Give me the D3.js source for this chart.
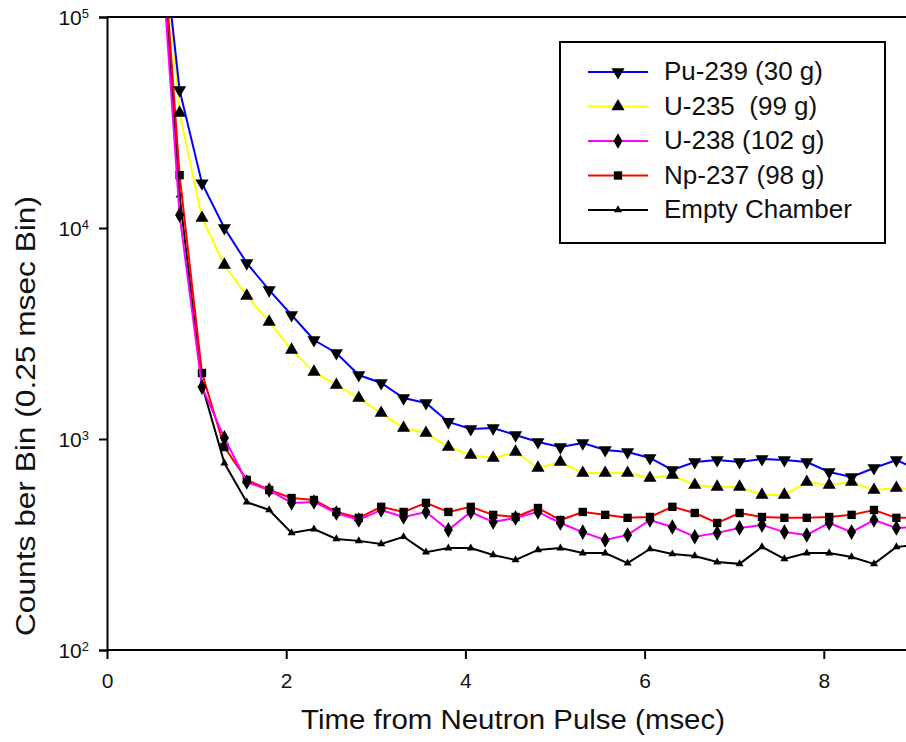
<!DOCTYPE html>
<html>
<head>
<meta charset="utf-8">
<script src="https://cdn.jsdelivr.net/npm/d3@7"></script>
<style>
  body { margin: 0; background: #fff; }
  text { font-family: "Liberation Sans", Arial, sans-serif; fill: #111; }
</style>
</head>
<body>
<div id="chart"></div>
<script>
var w = 906, h = 742;

// Bin times (msec)
var times = [0.56, 0.81, 1.06, 1.31, 1.56, 1.81, 2.06, 2.31, 2.56, 2.81,
             3.06, 3.31, 3.56, 3.81, 4.06, 4.31, 4.56, 4.81, 5.06, 5.31,
             5.56, 5.81, 6.06, 6.31, 6.56, 6.81, 7.06, 7.31, 7.56, 7.81,
             8.06, 8.31, 8.56, 8.81, 9.06];

// Counts per bin
var pu239 = [422000, 45100, 16300, 10000, 6820, 5080, 3870, 2945, 2557, 2010,
             1842, 1563, 1482, 1205, 1115, 1127, 1044, 968, 916, 957,
             887, 868, 813, 713, 778, 795, 778, 804, 795, 778,
             698, 661, 729, 795, 713];
var u235 = [573000, 35100, 11150, 6680, 4765, 3590, 2643, 2080, 1803, 1563,
            1327, 1127, 1067, 916, 840, 813, 868, 729, 778, 690,
            690, 690, 653, 675, 605, 593, 593, 543, 543, 625,
            605, 625, 573, 586, 573];
var u238 = [400000, 11530, 1762, 1012, 625, 573, 498, 503, 446, 413,
            461, 427, 451, 371, 451, 404, 423, 451, 400, 362,
            332, 351, 413, 383, 344, 359, 379, 391, 362, 351,
            400, 362, 413, 379, 383];
var np237 = [561000, 17800, 2055, 916, 640, 573, 525, 514, 451, 423,
             477, 451, 498, 451, 477, 437, 427, 471, 413, 451,
             437, 423, 427, 477, 446, 400, 446, 427, 423, 423,
             427, 437, 461, 423, 423];
var empty = [446000, 14300, 1803, 769, 502, 461, 359, 374, 336, 329,
             318, 344, 291, 304, 304, 282, 267, 298, 304, 288,
             288, 258, 301, 285, 279, 261, 256, 308, 270, 288,
             288, 276, 256, 308, 315];

var seriesNames = ["Pu-239 (30 g)", "U-235  (99 g)", "U-238 (102 g)", "Np-237 (98 g)", "Empty Chamber"];
var seriesValues = [pu239, u235, u238, np237, empty];
var seriesColors = ["#0000ff", "#ffff00", "#ff00ff", "#ff0000", "#000000"];
var xTicks = [0, 2, 4, 6, 8];
var yTicks = [100, 1000, 10000, 100000];

var markerType = [
  { type: d3.symbolTriangle, size: 75, rot: 180 },
  { type: d3.symbolTriangle, size: 75, rot: 0 },
  { type: d3.symbolDiamond, size: 70, rot: 0 },
  { type: d3.symbolSquare, size: 70, rot: 0 },
  { type: d3.symbolTriangle, size: 28, rot: 0 }
];

var x = d3.scaleLinear().domain([0, 10]).range([107, 1003]);
var y = d3.scaleLog().domain([100, 100000]).range([650, 17]);

var svg = d3.select("#chart").append("svg")
  .attr("width", w)
  .attr("height", h);

svg.append("clipPath").attr("id", "plotclip")
  .append("rect")
  .attr("x", x(0)).attr("y", y(100000))
  .attr("width", x(10) - x(0)).attr("height", y(100) - y(100000));

var plot = svg.append("g").attr("clip-path", "url(#plotclip)");

var line = d3.line()
  .x(function(d) { return x(d[0]); })
  .y(function(d) { return y(d[1]); });

// draw last series first so Pu-239 ends up on top
for (var s = seriesValues.length - 1; s >= 0; s--) {
  var pts = times.map(function(t, i) { return [t, seriesValues[s][i]]; });
  plot.append("path")
    .attr("d", line(pts))
    .attr("fill", "none")
    .attr("stroke", seriesColors[s])
    .attr("stroke-width", 2);
  var m = markerType[s];
  var sym = d3.symbol().type(m.type).size(m.size);
  plot.selectAll(null)
    .data(pts)
    .enter().append("path")
    .attr("d", sym)
    .attr("fill", "#000")
    .attr("transform", function(d) {
      return "translate(" + x(d[0]) + "," + y(d[1]) + ") rotate(" + m.rot + ")";
    });
}

// frame: top and right edges
svg.append("path")
  .attr("d", "M" + x(0) + "," + y(100000) + "H" + x(10) + "V" + y(100))
  .attr("fill", "none").attr("stroke", "#000").attr("stroke-width", 2);

// x axis
var xAxis = svg.append("g")
  .attr("transform", "translate(0," + y(100) + ")")
  .call(d3.axisBottom(x).tickValues(xTicks).tickSize(9).tickPadding(14).tickFormat(d3.format("d")));
xAxis.select(".domain").attr("d", "M" + x(0) + ",0H" + x(10)).attr("stroke-width", 2);
xAxis.selectAll(".tick line").attr("stroke-width", 2);
xAxis.selectAll("text").style("font-size", "21px").attr("fill", "#111");

// y axis
var yAxis = svg.append("g")
  .attr("transform", "translate(" + x(0) + ",0)")
  .call(d3.axisLeft(y).tickValues(yTicks).tickSize(8).tickPadding(10).tickFormat(function() { return ""; }));
yAxis.select(".domain").attr("stroke-width", 2);
yAxis.selectAll(".tick line").attr("stroke-width", 2);
yAxis.selectAll(".tick text").each(function(d) {
  var t = d3.select(this);
  t.attr("dy", "0.35em").style("font-size", "21px").attr("fill", "#111");
  t.append("tspan").text("10");
  t.append("tspan").attr("dy", "-0.55em").style("font-size", "13px").text(Math.round(Math.log10(d)));
});

// axis titles
svg.append("text")
  .attr("x", 513).attr("y", 729)
  .attr("text-anchor", "middle")
  .attr("textLength", 424).attr("lengthAdjust", "spacingAndGlyphs")
  .style("font-size", "27px")
  .text("Time from Neutron Pulse (msec)");

svg.append("text")
  .attr("transform", "translate(35,416) rotate(-90)")
  .attr("text-anchor", "middle")
  .attr("textLength", 440).attr("lengthAdjust", "spacingAndGlyphs")
  .style("font-size", "27px")
  .text("Counts ber Bin (0.25 msec Bin)");

// legend
var legend = svg.append("g");
legend.append("rect")
  .attr("x", 560).attr("y", 42).attr("width", 325).attr("height", 201)
  .attr("fill", "#fff").attr("stroke", "#000").attr("stroke-width", 2);

seriesNames.forEach(function(name, i) {
  var ly = 72 + 34.5 * i;
  legend.append("line")
    .attr("x1", 588).attr("x2", 648).attr("y1", ly).attr("y2", ly)
    .attr("stroke", seriesColors[i]).attr("stroke-width", 2);
  var m = markerType[i];
  legend.append("path")
    .attr("d", d3.symbol().type(m.type).size(m.size))
    .attr("fill", "#000")
    .attr("transform", "translate(618," + ly + ") rotate(" + m.rot + ")");
  legend.append("text")
    .attr("x", 664).attr("y", ly + 8)
    .style("font-size", "26px")
    .style("white-space", "pre")
    .attr("xml:space", "preserve")
    .text(name);
});
</script>
</body>
</html>
